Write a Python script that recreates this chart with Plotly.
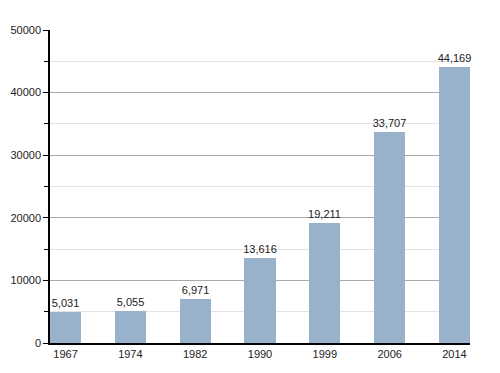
import plotly.graph_objects as go

years = ["1967", "1974", "1982", "1990", "1999", "2006", "2014"]
values = [5031, 5055, 6971, 13616, 19211, 33707, 44169]
labels = [f"{v:,}" for v in values]
y_ticks = [0, 10000, 20000, 30000, 40000, 50000]

xpos = list(range(len(years)))

fig = go.Figure(go.Bar(
    x=xpos, y=values, width=0.48,
    marker=dict(color="#98b2cb", line=dict(width=0)),
    text=labels, textposition="outside", constraintext="none",
    textfont=dict(family="Liberation Sans, Arial", size=11, color="#222"),
    cliponaxis=False,
))

# page body has an 8px default margin; compensate so the plot lands where the reference has it
fig.update_layout(
    width=492, height=365,
    margin=dict(l=42, r=30, t=22, b=30, autoexpand=False),
    plot_bgcolor="white", paper_bgcolor="white",
    showlegend=False,
    font=dict(family="Liberation Sans, Arial", size=11, color="#222"),
    bargap=0,
)
fig.update_xaxes(
    range=[-0.24, len(years) - 1 + 0.24],
    tickvals=xpos, ticktext=years,
    showline=True, linecolor="black", linewidth=1.5,
    ticks="", showgrid=False, zeroline=False,
    tickfont=dict(size=11), automargin=False,
)
fig.update_yaxes(
    range=[0, 50000],
    tickvals=y_ticks, ticktext=[str(t) for t in y_ticks],
    showline=True, linecolor="black", linewidth=1.5,
    ticks="outside", ticklen=5, tickcolor="black",
    showgrid=True, gridcolor="#aaaaaa", gridwidth=1,
    zeroline=False, automargin=False, ticklabelstandoff=0,
    minor=dict(dtick=5000, ticks="outside", ticklen=4, tickcolor="black",
               showgrid=True, gridcolor="#e2e2e2", gridwidth=1),
    tickfont=dict(size=11),
)

fig.write_html("out.html")
